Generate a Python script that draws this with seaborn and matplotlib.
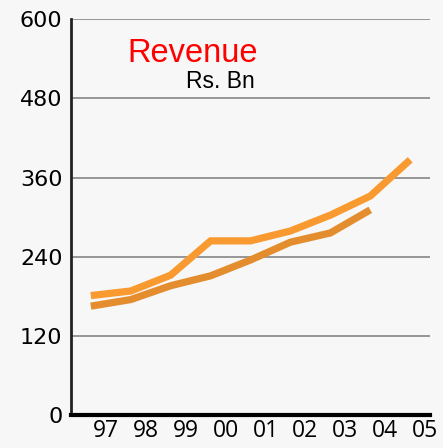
import matplotlib
matplotlib.use("Agg")
import matplotlib.pyplot as plt
import matplotlib.transforms as mtransforms
import seaborn as sns
import pandas as pd

# ---------------- DATA ----------------
YEAR_LABELS = ["97", "98", "99", "00", "01", "02", "03", "04", "05"]
Y_TICKS = [0, 120, 240, 360, 480, 600]
REVENUE_A = [181, 188, 212, 264, 264, 279, 303, 332, 387]   # lighter line, runs to 05
REVENUE_B = [165, 175, 196, 211, 235, 262, 276, 311]        # darker line, stops at 04
# --------------------------------------

BG = "#f7f7f7"
COLOR_A = "#f99a30"
COLOR_B = "#e38d2e"

sns.set_style("white")
plt.rcParams["font.family"] = ["Open Sans", "DejaVu Sans"]

df = pd.concat([
    pd.DataFrame({"pos": range(len(REVENUE_A)), "value": REVENUE_A, "series": "A"}),
    pd.DataFrame({"pos": range(len(REVENUE_B)), "value": REVENUE_B, "series": "B"}),
])

fig = plt.figure(figsize=(4.43, 4.48), dpi=100, facecolor=BG)
ax = fig.add_axes([0.160, 0.0737, 0.811, 0.8833])
ax.set_facecolor(BG)

for y in Y_TICKS[1:]:
    ax.axhline(y, color="#8e8e8e", linewidth=1.3, zorder=1)

sns.lineplot(data=df, x="pos", y="value", hue="series",
             palette={"A": COLOR_A, "B": COLOR_B},
             linewidth=5.2, legend=False, ax=ax, zorder=3,
             solid_capstyle="butt", solid_joinstyle="miter")

ax.set_xlim(-0.5, len(YEAR_LABELS) - 0.5)
ax.set_ylim(0, 600)
ax.set_xlabel("")
ax.set_ylabel("")

ax.set_xticks([i + 0.5 for i in range(len(YEAR_LABELS))])
ax.set_xticklabels(YEAR_LABELS, fontsize=16.5, color="black")
ax.tick_params(axis="x", direction="in", length=8, width=2, color="black", pad=3)
shift = mtransforms.ScaledTranslation(-5 / 100, 0, fig.dpi_scale_trans)
for lbl in ax.get_xticklabels():
    lbl.set_transform(lbl.get_transform() + shift)

ax.set_yticks(Y_TICKS)
ax.set_yticklabels([str(v) for v in Y_TICKS], fontsize=16, family="DejaVu Sans",
                   color="black")
ax.tick_params(axis="y", length=0, pad=6)

for side in ["top", "right"]:
    ax.spines[side].set_visible(False)
ax.spines["left"].set_linewidth(2)
ax.spines["left"].set_color("#222222")
ax.spines["bottom"].set_linewidth(3)
ax.spines["bottom"].set_color("black")

fig.text(127 / 443, 1 - 62 / 448, "Revenue", color="#ff0000",
         fontsize=23.5, family="Liberation Sans", va="baseline", ha="left")
fig.text(186 / 443, 1 - 88 / 448, "Rs. Bn", color="black",
         fontsize=16.5, family="Liberation Sans", va="baseline", ha="left")

fig.savefig("out.png", dpi=100, facecolor=BG)
